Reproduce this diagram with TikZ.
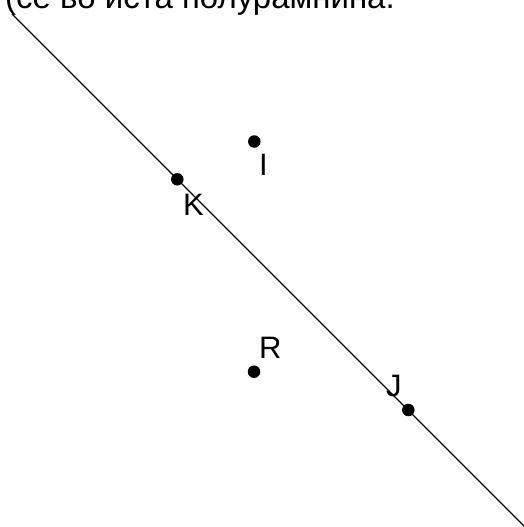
\documentclass[tikz,border=0pt]{standalone}
\usepackage{fontspec}
\setmainfont{Liberation Sans}
\begin{document}
\begin{tikzpicture}[x=1pt,y=-1pt,
  dot/.style={circle,fill=black,inner sep=0pt,minimum size=12.5pt},
  lbl/.style={inner sep=0pt,anchor=base west,font=\fontsize{31}{36}\selectfont},
  ttl/.style={inner sep=0pt,anchor=base west,font=\fontsize{33}{39}\selectfont}]
\clip (0,0) rectangle (524,527);
\fill[white] (0,0) rectangle (524,527);
\coordinate (A) at (12,14);
\coordinate (B) at (525,527);
\draw[line width=1.3pt] (A) -- (B);
\node[ttl] (title) at (5,9) {(се во иста полурамнина.};
\node[dot] (I) at (254.3,141.5) {};
\node[dot] (K) at (177.3,179.3) {};
\node[dot] (R) at (254,371.7) {};
\node[dot] (J) at (408.3,410) {};
\node[lbl] (Il) at (259,175) {I};
\node[lbl] (Kl) at (183,215) {K};
\node[lbl] (Rl) at (259,358.3) {R};
\node[lbl] (Jl) at (386,396.7) {J};
\end{tikzpicture}
\end{document}
